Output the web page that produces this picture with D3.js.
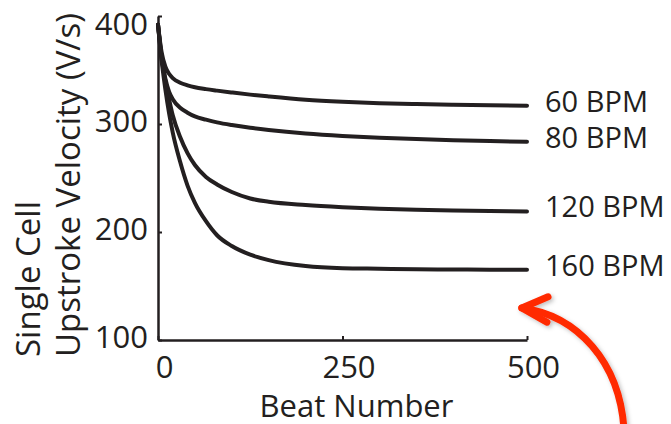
<!DOCTYPE html>
<html>
<head>
<meta charset="utf-8">
<script src="https://cdn.jsdelivr.net/npm/d3@7"></script>
<style>
  body { margin: 0; background: #fff; }
  text { font-family: "Open Sans", sans-serif; fill: #231f20; }
</style>
</head>
<body>
<div id="chart"></div>
<script>
// beat numbers sampled along the curves
var beats = [0, 5, 10, 15, 20, 30, 40, 50, 65, 80, 100, 125, 150, 200, 250, 300, 350, 400, 450, 500];

// upstroke velocity (V/s)
var bpm60  = [392, 366, 353, 346.5, 342.5, 338.2, 335.8, 334, 332.3, 330.9, 329.2, 327.2, 325.5, 322.5, 320.6, 319.3, 318.5, 317.9, 317.4, 317];
var bpm80  = [392, 360, 342, 330, 323, 315, 310.5, 307, 304, 301.5, 299, 296.5, 294.5, 291.3, 289, 287.3, 286, 285, 284.2, 283.6];
var bpm120 = [392, 362, 340, 323, 308, 288, 273, 262, 251, 244, 237, 231, 228, 225, 223, 221.5, 220.5, 220, 219.5, 219];
var bpm160 = [392, 358, 332, 310, 292, 265, 243, 227, 210, 197, 187, 179, 174, 168.5, 166.5, 166, 165.5, 165.3, 165, 165];

var seriesLabels = ["60 BPM", "80 BPM", "120 BPM", "160 BPM"];
var xTicks = [0, 250, 500];
var yTicks = [100, 200, 300, 400];

var svgWidth = 671, svgHeight = 424;
var margin = { top: 16, left: 158 };
var width = 369, height = 324;

var svg = d3.select("#chart").append("svg")
  .attr("width", svgWidth)
  .attr("height", svgHeight);

var defs = svg.append("defs");
var shadow = defs.append("filter").attr("id", "shadow")
  .attr("x", "-20%").attr("y", "-20%").attr("width", "140%").attr("height", "140%");
shadow.append("feDropShadow")
  .attr("dx", 2).attr("dy", 2).attr("stdDeviation", 2)
  .attr("flood-color", "#000").attr("flood-opacity", 0.25);

var chartGroup = svg.append("g")
  .attr("transform", `translate(${margin.left}, ${margin.top})`);

var x = d3.scaleLinear().domain([0, 500]).range([0, width]);
var y = d3.scaleLinear().domain([100, 400]).range([height, 0]);

// axes, ticks pointing inwards
var xAxis = chartGroup.append("g")
  .attr("transform", `translate(0, ${height})`)
  .call(d3.axisBottom(x).tickValues(xTicks).tickSizeInner(-4).tickSizeOuter(0));

var yAxis = chartGroup.append("g")
  .call(d3.axisLeft(y).tickValues(yTicks).tickSizeInner(-4).tickSizeOuter(0));

[xAxis, yAxis].forEach(function(ax) {
  ax.select(".domain").attr("stroke", "#231f20").attr("stroke-width", 2.5);
  ax.selectAll(".tick line").attr("stroke", "#231f20").attr("stroke-width", 2);
  ax.selectAll(".tick text")
    .attr("font-family", "Open Sans, sans-serif")
    .attr("font-size", "31px")
    .attr("fill", "#231f20");
});

xAxis.selectAll(".tick text")
  .attr("y", 38).attr("dy", 0).attr("x", 6);

yAxis.selectAll(".tick text")
  .attr("x", -10)
  .attr("dy", function(d) { return d === 400 ? "0.6em" : "0.25em"; });

// the four curves
var allSeries = [bpm60, bpm80, bpm120, bpm160];
var line = d3.line()
  .x(function(d, i) { return x(beats[i]); })
  .y(function(d) { return y(d); })
  .curve(d3.curveMonotoneX);

chartGroup.selectAll(".curve")
  .data(allSeries)
  .enter()
  .append("path")
  .attr("class", "curve")
  .attr("d", line)
  .attr("fill", "none")
  .attr("stroke", "#231f20")
  .attr("stroke-width", 4)
  .attr("stroke-linecap", "round");

// series labels at the line ends
chartGroup.selectAll(".lbl")
  .data(allSeries)
  .enter()
  .append("text")
  .attr("class", "lbl")
  .attr("x", width + 18)
  .attr("y", function(d) { return y(d[d.length - 1]) + 6; })
  .attr("font-size", "29px")
  .text(function(d, i) { return seriesLabels[i]; });

// axis titles
chartGroup.append("text")
  .attr("transform", `translate(${width / 2 + 14}, ${height + 77})`)
  .attr("text-anchor", "middle")
  .attr("font-size", "31px")
  .text("Beat Number");

var yTitle = svg.append("text")
  .attr("transform", "translate(40, 357) rotate(-90)")
  .attr("font-size", "33px");
yTitle.append("tspan").attr("x", 0).attr("y", 0).text("Single Cell");
yTitle.append("tspan").attr("x", 0).attr("y", 40).text("Upstroke Velocity (V/s)");

// red annotation arrow, in data units
var arrowCurve = [[493, 129.6], [565, 123], [629, 81.5], [632, 10]];
var arrowHead = [[528.5, 140], [493, 129.6], [527, 116.5]];

var arrow = chartGroup.append("g").attr("filter", "url(#shadow)");
arrow.append("path")
  .attr("d", `M${x(arrowCurve[0][0])},${y(arrowCurve[0][1])} C${x(arrowCurve[1][0])},${y(arrowCurve[1][1])} ${x(arrowCurve[2][0])},${y(arrowCurve[2][1])} ${x(arrowCurve[3][0])},${y(arrowCurve[3][1])}`)
  .attr("fill", "none")
  .attr("stroke", "#ff2a00")
  .attr("stroke-width", 7)
  .attr("stroke-linecap", "round");
arrow.append("path")
  .attr("d", d3.line().x(function(d) { return x(d[0]); }).y(function(d) { return y(d[1]); })(arrowHead))
  .attr("fill", "none")
  .attr("stroke", "#ff2a00")
  .attr("stroke-width", 7)
  .attr("stroke-linecap", "round")
  .attr("stroke-linejoin", "round");
</script>
</body>
</html>
